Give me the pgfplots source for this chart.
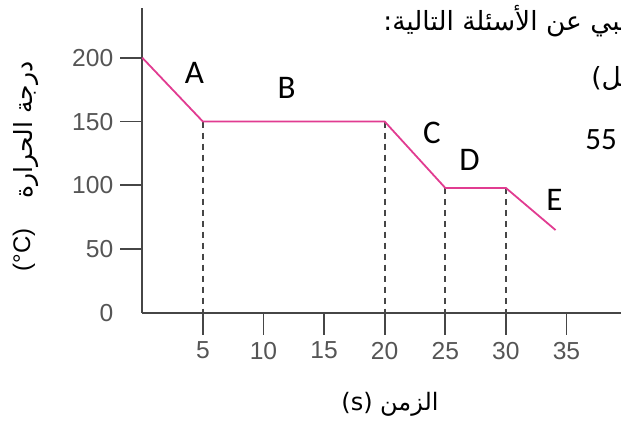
\documentclass[border=0pt]{standalone}
\usepackage{fontspec}
\setmainfont{Liberation Sans}
\newfontfamily\arabicfont[Script=Arabic]{DejaVu Sans}
\newfontfamily\calfont{Carlito}
\TeXXeTstate=1
\usepackage{pgfplots}
\pgfplotsset{compat=1.18}
\definecolor{curve}{RGB}{225,60,145}
\definecolor{axisgray}{RGB}{70,70,70}
\definecolor{ticklab}{RGB}{85,85,85}
\begin{document}
\begin{tikzpicture}
\useasboundingbox (0,0) rectangle (310.5pt,214pt);
\begin{axis}[
  at={(71.15pt,57.5pt)}, anchor=south west,
  scale only axis, width=239.35pt, height=152.5pt,
  xmin=0, xmax=39.5, ymin=0, ymax=239,
  axis x line=bottom, axis y line=left,
  axis line style={-, axisgray, line width=1pt},
  tick style={axisgray, line width=0.9pt},
  tick align=outside, major tick length=11pt,
  xtick={5,10,15,20,25,30,35},
  ytick={50,100,150,200},
  extra y ticks={0},
  extra y tick style={major tick length=0pt, yticklabel style={xshift=-11pt}},
  ticklabel style={font=\fontsize{12.3}{14}\selectfont, text=ticklab},
  /pgf/number format/assume math mode=true,
  clip=false,
]
\addplot[axisgray, line width=0.85pt, dash pattern=on 3pt off 2.5pt] coordinates {(5,150) (5,0)};
\addplot[axisgray, line width=0.85pt, dash pattern=on 3pt off 2.5pt] coordinates {(20,150) (20,0)};
\addplot[axisgray, line width=0.85pt, dash pattern=on 3pt off 2.5pt] coordinates {(25,98) (25,0)};
\addplot[axisgray, line width=0.85pt, dash pattern=on 3pt off 2.5pt] coordinates {(30,98) (30,0)};
\addplot[curve, line width=0.9pt] coordinates {(0,200) (5,150) (20,150) (25,98) (30,98) (34.1,65)};
\node[font=\calfont\fontsize{16.5}{18}\selectfont] at (axis cs:4.3,188) {A};
\node[font=\calfont\fontsize{16.5}{18}\selectfont] at (axis cs:11.9,176) {B};
\node[font=\calfont\fontsize{16.5}{18}\selectfont] at (axis cs:23.9,141) {C};
\node[font=\calfont\fontsize{16.5}{18}\selectfont] at (axis cs:27,120) {D};
\node[font=\calfont\fontsize{16.5}{18}\selectfont] at (axis cs:34,89) {E};
\end{axis}
\node[anchor=west, inner sep=0pt, font=\calfont\fontsize{15.5}{18}\selectfont] at (292.5pt,144pt) {55};
\node[anchor=west, inner sep=0pt, font=\arabicfont\fontsize{13.2}{15}\selectfont] at (191.5pt,203.5pt) {\beginR أجيبي عن الأسئلة التالية:\endR};
\node[anchor=west, inner sep=0pt, font=\arabicfont\fontsize{13.2}{15}\selectfont] at (295.5pt,175pt) {\beginR(المسائل)\endR};
\node[rotate=90, inner sep=0pt, font=\arabicfont\fontsize{12.5}{14}\selectfont] at (13pt,149pt) {\beginR درجة الحرارة\endR};
\node[rotate=90, inner sep=0pt, font=\fontsize{12}{14}\selectfont] at (12pt,89pt) {(°C)};
\node[inner sep=0pt, font=\arabicfont\fontsize{12}{14}\selectfont] at (195pt,12pt) {(s) \beginR الزمن\endR};
\end{tikzpicture}
\end{document}
